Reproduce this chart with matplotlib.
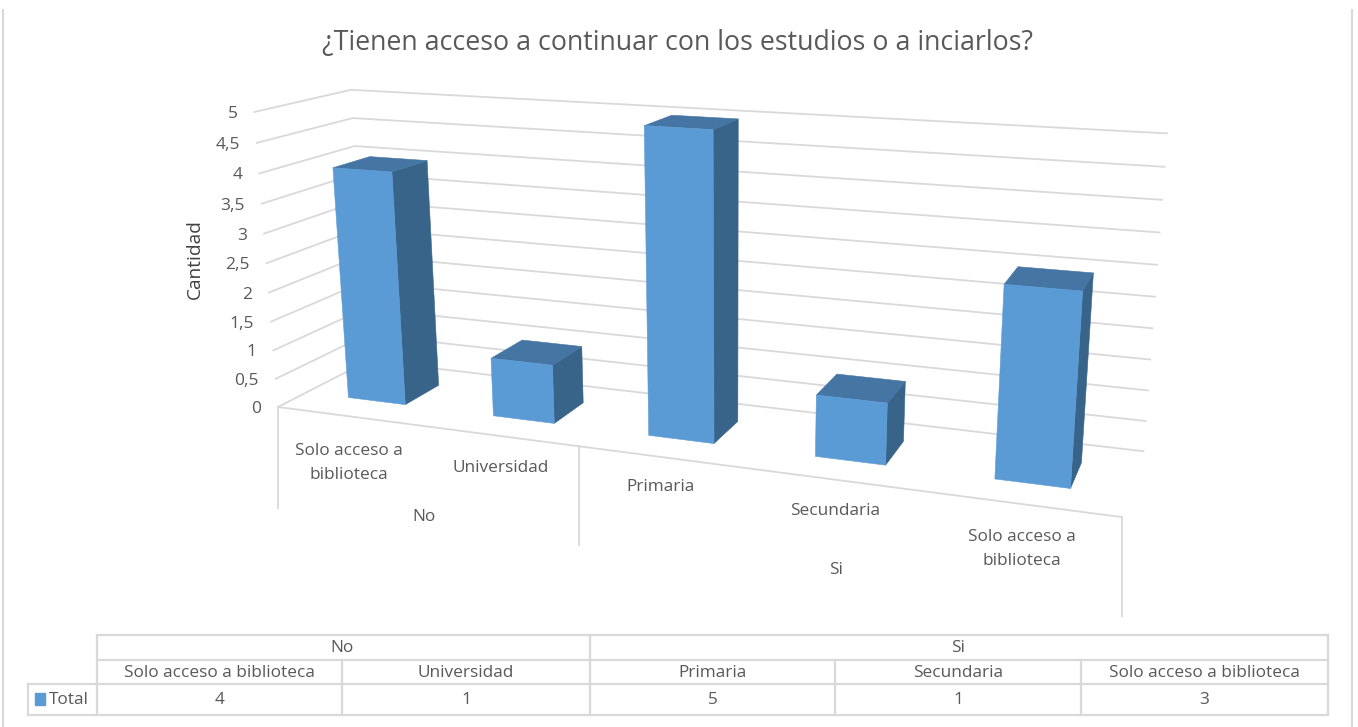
import numpy as np
import matplotlib
matplotlib.use('Agg')
import matplotlib.pyplot as plt

# data
title_text = '¿Tienen acceso a continuar con los estudios o a inciarlos?'
groups = ['No', 'Si']
group_sizes = [2, 3]
categories = ['Solo acceso a biblioteca', 'Universidad', 'Primaria', 'Secundaria', 'Solo acceso a biblioteca']
values = [4, 1, 5, 1, 3]
y_ticks = [0, 0.5, 1, 1.5, 2, 2.5, 3, 3.5, 4, 4.5, 5]

# colours
front_col = '#5B9BD5'
top_col = '#4575A3'
side_col = '#39648A'
grid_col = '#D9D9D9'
text_col = '#595959'

plt.rcParams['font.family'] = ['Open Sans', 'DejaVu Sans']

# camera: (u across, d depth, v value) -> picture pixels, fitted on the wall corners
walls = [
    (0, 0, 0, 277, 407), (1, 0, 0, 1122, 516), (0.4, 0, 0, 579, 447),
    (0, 1, 0, 370, 360), (1, 1, 0, 1143, 452), (0, 0, 5, 256, 112),
    (0, 1, 5, 350, 90), (1, 1, 5, 1167, 133), (0, 0, 0.5, 275, 379),
    (1, 1, 2.5, 1155, 297), (0, 1, 4, 354, 146),
]
rows = []
rhs = []
for u, d, v, px, py in walls:
    rows.append([u, d, v, 1, 0, 0, 0, 0, -px * u, -px * d, -px * v])
    rows.append([0, 0, 0, 0, u, d, v, 1, -py * u, -py * d, -py * v])
    rhs += [px, py]
cam = np.linalg.lstsq(np.array(rows, float), np.array(rhs, float), rcond=None)[0]
cam = np.append(cam, 1).reshape(3, 4)


def project(u, d, v):
    x, y, w = cam @ np.array([u, d, v, 1.0])
    return x / w, y / w


def face(ax, corners, col):
    pts = [project(*c) for c in corners]
    ax.fill([p[0] for p in pts], [p[1] for p in pts], color=col, lw=0.4, zorder=3)


fig = plt.figure(figsize=(13.58, 7.27), dpi=100)
ax = fig.add_axes([0, 0, 1, 1])
ax.set_xlim(0, 1358)
ax.set_ylim(727, 0)
ax.axis('off')

# outer border of the chart
ax.plot([3, 3], [10, 727], color=grid_col, lw=1.5)
ax.plot([1352, 1352], [10, 727], color=grid_col, lw=1.5)

ax.text(678, 42, title_text, ha='center', va='center', fontsize=19.3, color=text_col)
ax.text(195, 259, 'Cantidad', rotation=90, ha='center', va='center', fontsize=13.8, color='#404040')

# walls
for t in y_ticks:
    a = project(0, 0, t)
    b = project(0, 1, t)
    c = project(1, 1, t)
    ax.plot([a[0], b[0], c[0]], [a[1], b[1], c[1]], color=grid_col, lw=1.3, zorder=1)
    label = f'{t:g}'.replace('.', ',')
    ax.text(a[0] - 17, a[1] + 2, label, ha='right', va='center', fontsize=12.5, color=text_col)

# floor edge and the dropping dividers
n = len(categories)
a = project(0, 0, 0)
b = project(1, 0, 0)
ax.plot([a[0], b[0]], [a[1], b[1]], color=grid_col, lw=1.3, zorder=1)
div_len = [101, 99, 99]
cum = np.concatenate([[0], np.cumsum(group_sizes)])
for k, c in enumerate(cum):
    p = project(c / n, 0, 0)
    ax.plot([p[0], p[0]], [p[1], p[1] + div_len[k]], color=grid_col, lw=1.3, zorder=1)

# bars
for i, val in enumerate(values):
    u0, u1 = (i + 0.3) / n, (i + 0.7) / n
    d0, d1 = 0.3, 0.7
    face(ax, [(u1, d0, 0), (u1, d1, 0), (u1, d1, val), (u1, d0, val)], side_col)
    face(ax, [(u0, d0, val), (u1, d0, val), (u1, d1, val), (u0, d1, val)], top_col)
    face(ax, [(u0, d0, 0), (u1, d0, 0), (u1, d0, val), (u0, d0, val)], front_col)

# axis labels under the floor
cat_x = [349, 501, 661, 835, 1022]
cat_y = [463, 468, 487, 511, 549]
for name, x, y in zip(categories, cat_x, cat_y):
    name = name.replace(' a ', ' a\n')
    ax.text(x, y, name, ha='center', va='center', fontsize=12.4, color=text_col, linespacing=1.65)
ax.text(424, 517, groups[0], ha='center', va='center', fontsize=12.4, color=text_col)
ax.text(836, 570, groups[1], ha='center', va='center', fontsize=12.4, color=text_col)

# data table
col_edges = [97, 342, 590, 835, 1081, 1328]
row_edges = [635, 660, 684, 715]
left_edge = 28
ax.plot([97, 1328], [row_edges[0]] * 2, color=grid_col, lw=1.6)
ax.plot([97, 1328], [row_edges[1]] * 2, color=grid_col, lw=1.6)
ax.plot([left_edge, 1328], [row_edges[2]] * 2, color=grid_col, lw=1.6)
ax.plot([left_edge, 1328], [row_edges[3]] * 2, color=grid_col, lw=1.6)
ax.plot([left_edge, left_edge], row_edges[2:], color=grid_col, lw=1.6)
ax.plot([97, 97], [row_edges[0], row_edges[3]], color=grid_col, lw=1.6)
ax.plot([1328, 1328], [row_edges[0], row_edges[3]], color=grid_col, lw=1.6)
ax.plot([590, 590], [row_edges[0], row_edges[3]], color=grid_col, lw=1.6)
for x in [342, 835, 1081]:
    ax.plot([x, x], [row_edges[1], row_edges[3]], color=grid_col, lw=1.6)

ax.text((97 + 590) / 2 - 1, 648, groups[0], ha='center', va='center', fontsize=12.4, color=text_col)
ax.text((590 + 1328) / 2 - 1, 648, groups[1], ha='center', va='center', fontsize=12.4, color=text_col)
for i in range(n):
    xc = (col_edges[i] + col_edges[i + 1]) / 2
    ax.text(xc, 673, categories[i], ha='center', va='center', fontsize=12.4, color=text_col)
    ax.text(xc, 700, str(values[i]), ha='center', va='center', fontsize=12.4, color=text_col)

ax.fill([35, 45, 45, 35], [693, 693, 705, 705], color=front_col)
ax.text(49, 700, 'Total', ha='left', va='center', fontsize=12.4, color=text_col)

fig.savefig('out.png', dpi=100)
